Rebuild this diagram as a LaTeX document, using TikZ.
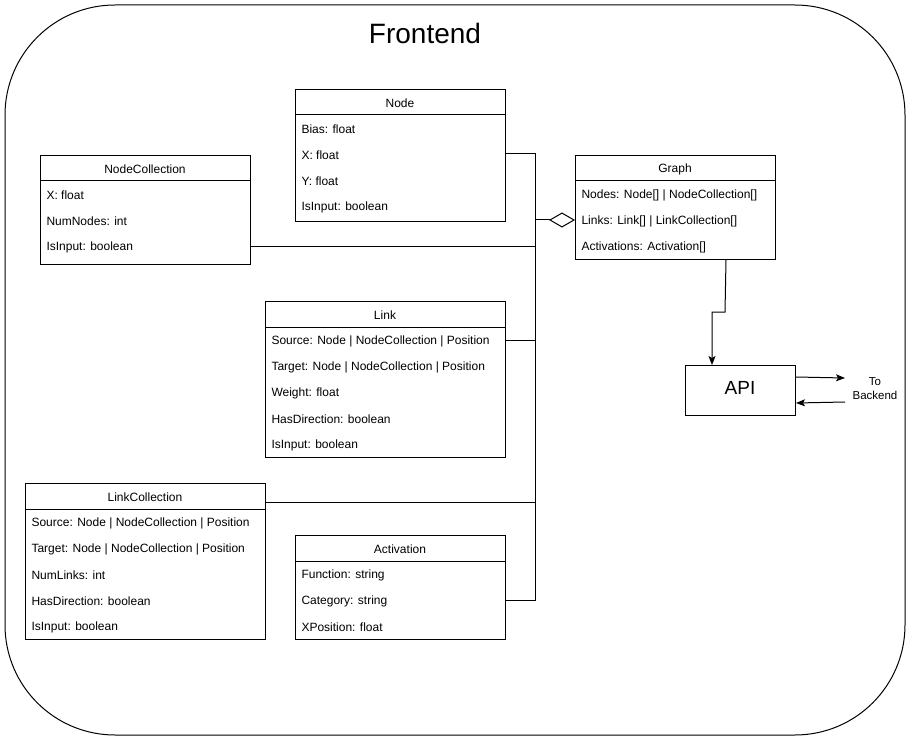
\documentclass[tikz,border=0pt]{standalone}
\usepackage{fontspec}
\setmainfont{Liberation Sans}
\usetikzlibrary{arrows.meta,calc}
\begin{document}
\begin{tikzpicture}[x=1pt,y=-1pt,
  line width=1pt,
  box/.style={draw, inner sep=0pt, anchor=north west},
  attr/.style={anchor=west, inner sep=0pt, yshift=-1pt, font=\fontsize{12}{14}\selectfont},
  ttl/.style={inner sep=0pt, yshift=-1pt, font=\fontsize{12}{14}\selectfont},
  conn/.style={draw, line width=1pt},
  arr/.style={conn, -{Stealth[length=9pt,width=7pt,inset=2pt]}}
]
\useasboundingbox (0,0) rectangle (911,741);
% container
\draw[rounded corners=110pt] (5,5) rectangle (905,735);
\node[inner sep=0pt, font=\fontsize{28}{32}\selectfont] (title) at (425,33) {Frontend};

% Node
\node[box, minimum width=210pt, minimum height=132pt] (node) at (295,89) {};
\draw ($(node.north west)+(0,26)$) -- ($(node.north east)+(0,26)$);
\node[ttl] (nodet) at (400,102) {Node};
\node[attr] (n1) at (301,128) {Bias: float};
\node[attr] (n2) at (301,154) {X: float};
\node[attr] (n3) at (301,180) {Y: float};
\node[attr] (n4) at (301,206) {IsInput: boolean};

% NodeCollection
\node[box, minimum width=210pt, minimum height=109pt] (ncol) at (40,155) {};
\draw ($(ncol.north west)+(0,26)$) -- ($(ncol.north east)+(0,26)$);
\node[ttl] (ncolt) at (145,168) {NodeCollection};
\node[attr] (c1) at (46,194) {X: float};
\node[attr] (c2) at (46,220) {NumNodes: int};
\node[attr] (c3) at (46,246) {IsInput: boolean};

% Graph
\node[box, minimum width=200pt, minimum height=104pt] (graph) at (575,155) {};
\draw ($(graph.north west)+(0,26)$) -- ($(graph.north east)+(0,26)$);
\node[ttl] (grapht) at (675,168) {Graph};
\node[attr] (g1) at (581,194) {Nodes: Node[] | NodeCollection[]};
\node[attr] (g2) at (581,220) {Links: Link[] | LinkCollection[]};
\node[attr] (g3) at (581,246) {Activations: Activation[]};

% Link
\node[box, minimum width=240pt, minimum height=156pt] (link) at (265,301) {};
\draw ($(link.north west)+(0,26)$) -- ($(link.north east)+(0,26)$);
\node[ttl] (linkt) at (385,314) {Link};
\node[attr] (l1) at (271,340) {Source: Node | NodeCollection | Position};
\node[attr] (l2) at (271,366) {Target: Node | NodeCollection | Position};
\node[attr] (l3) at (271,392) {Weight: float};
\node[attr] (l4) at (271,418) {HasDirection: boolean};
\node[attr] (l5) at (271,444) {IsInput: boolean};

% LinkCollection
\node[box, minimum width=240pt, minimum height=156pt] (lcol) at (25,483) {};
\draw ($(lcol.north west)+(0,26)$) -- ($(lcol.north east)+(0,26)$);
\node[ttl] (lcolt) at (145,496) {LinkCollection};
\node[attr] (k1) at (31,522) {Source: Node | NodeCollection | Position};
\node[attr] (k2) at (31,548) {Target: Node | NodeCollection | Position};
\node[attr] (k3) at (31,574) {NumLinks: int};
\node[attr] (k4) at (31,600) {HasDirection: boolean};
\node[attr] (k5) at (31,626) {IsInput: boolean};

% Activation
\node[box, minimum width=210pt, minimum height=104pt] (act) at (295,535) {};
\draw ($(act.north west)+(0,26)$) -- ($(act.north east)+(0,26)$);
\node[ttl] (actt) at (400,548) {Activation};
\node[attr] (a1) at (301,574) {Function: string};
\node[attr] (a2) at (301,600) {Category: string};
\node[attr] (a3) at (301,626) {XPosition: float};

% API
\node[box, minimum width=110pt, minimum height=50pt] (api) at (685,365) {};
\node[inner sep=0pt, font=\fontsize{19}{22}\selectfont] (apit) at (740,388) {API};
\node[inner sep=0pt, align=center, font=\fontsize{11.5}{14}\selectfont] (backend) at (875,388.5) {To\\Backend};

% bus connectors
\coordinate (jT) at (535,154);
\coordinate (jC) at (535,246);
\coordinate (jL) at (535,340);
\coordinate (jK) at (535,502);
\coordinate (jB) at (535,600);
\coordinate (jD) at (535,220);
\draw[conn] ([yshift=-65pt]node.north east) -- (jT) -- (jB) -- ([yshift=-65pt]act.north east);
\draw[conn] ([yshift=-91pt]ncol.north east) -- (jC);
\draw[conn] ([yshift=-39pt]link.north east) -- (jL);
\draw[conn] ([yshift=-19pt]lcol.north east) -- (jK);
\draw[conn, -{Diamond[open,length=26pt,width=15pt,line width=1pt]}] (jD) -- ([yshift=-65pt]graph.north west);

% Graph -> API
\coordinate (b1) at (725,312);
\coordinate (b2) at (712,312);
\draw[arr] ([xshift=-50pt]graph.south east) -- (b1) -- (b2) -- ([xshift=27pt]api.north west);

% API <-> Backend
\coordinate (o1) at (845,378);
\coordinate (i1) at (845,402);
\draw[arr] ([yshift=-12pt]api.north east) -- (o1);
\draw[arr] (i1) -- ([yshift=-38pt]api.north east);
\end{tikzpicture}
\end{document}
